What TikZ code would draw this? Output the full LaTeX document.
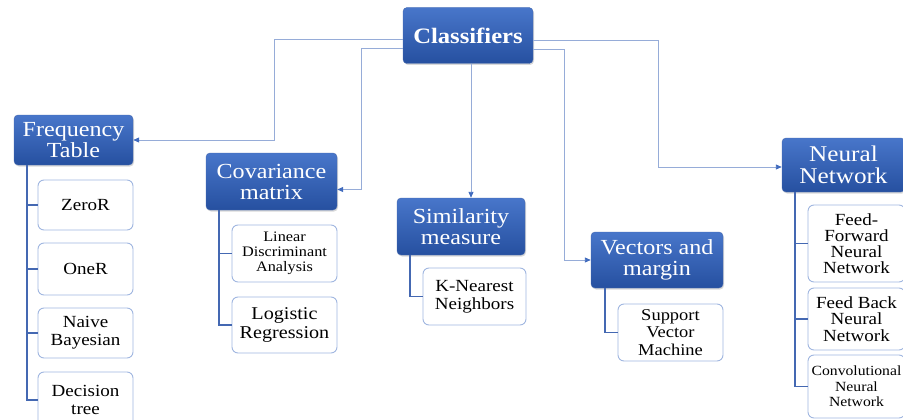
\documentclass[tikz,border=0pt]{standalone}
\usepackage{fontspec}
\setmainfont[FakeStretch=1.12]{Liberation Serif}
\usetikzlibrary{arrows.meta,shadows}
\definecolor{btop}{RGB}{72,118,202}
\definecolor{bbot}{RGB}{38,80,160}
\definecolor{cbord}{RGB}{160,182,224}
\definecolor{lconn}{RGB}{150,172,216}
\definecolor{ahead}{RGB}{66,108,190}
\definecolor{cline}{RGB}{68,104,178}
\tikzset{
  titlebox/.style={rectangle, rounded corners=4pt, top color=btop, bottom color=bbot,
    draw=bbot!85!white, line width=0.4pt, text=white, align=center, inner sep=0pt,
    font=\fontsize{21.5}{21}\selectfont,
    drop shadow={shadow xshift=1pt, shadow yshift=-1.5pt, opacity=0.3}},
  leafbox/.style={rectangle, rounded corners=6pt, fill=white, draw=cbord, line width=0.9pt,
    text=black, align=center, inner sep=0pt, font=\fontsize{17}{18}\selectfont},
  topconn/.style={draw=lconn, line width=0.9pt, -{Triangle[length=6pt,width=5pt,color=ahead]}},
  leafconn/.style={draw=cline, line width=1.6pt},
}
\begin{document}
\begin{tikzpicture}[x=1pt,y=-1pt]
\useasboundingbox (0,0) rectangle (903,420);
\clip (0,0) rectangle (903,420);

% title boxes
\node[titlebox, minimum width=130pt, minimum height=56pt, font=\bfseries\fontsize{22}{22}\selectfont] (cls) at (468,35.5) {Classifiers};
\node[titlebox, minimum width=119pt, minimum height=50pt] (freq) at (73.5,140) {Frequency\\Table};
\node[titlebox, minimum width=131pt, minimum height=57pt] (cov) at (271.5,181.5) {Covariance\\matrix};
\node[titlebox, minimum width=128pt, minimum height=57pt] (sim) at (461,226.5) {Similarity\\measure};
\node[titlebox, minimum width=132pt, minimum height=56pt] (vec) at (657,260) {Vectors and\\margin};
\node[titlebox, minimum width=123pt, minimum height=54pt, font=\fontsize{22.5}{22}\selectfont] (nn) at (843.5,165) {Neural\\Network};

% leaf boxes
\node[leafbox, minimum width=95pt, minimum height=50pt] (zeror) at (85.5,205) {ZeroR};
\node[leafbox, minimum width=95pt, minimum height=52pt] (oner) at (85.5,269) {OneR};
\node[leafbox, minimum width=95pt, minimum height=50pt] (naive) at (85.5,333) {Naive\\Bayesian};
\node[leafbox, minimum width=95pt, minimum height=56pt] (dec) at (85.5,400) {Decision\\tree};

\node[leafbox, minimum width=105pt, minimum height=57pt, font=\fontsize{14.5}{15}\selectfont] (lda) at (284.5,253.5) {Linear\\Discriminant\\Analysis};
\node[leafbox, minimum width=105pt, minimum height=56pt, font=\fontsize{18}{18.5}\selectfont] (logr) at (284.5,325) {Logistic\\Regression};

\node[leafbox, minimum width=103pt, minimum height=57pt] (knn) at (474.5,296.5) {K-Nearest\\Neighbors};

\node[leafbox, minimum width=105pt, minimum height=57pt, font=\fontsize{16.5}{17.5}\selectfont] (svm) at (670.5,332.5) {Support\\Vector\\Machine};

\node[leafbox, minimum width=97pt, minimum height=77pt, font=\fontsize{17}{16}\selectfont] (ff) at (856.5,243.5) {Feed-\\Forward\\Neural\\Network};
\node[leafbox, minimum width=97pt, minimum height=62pt, font=\fontsize{17}{16.5}\selectfont] (fb) at (856.5,319) {Feed Back\\Neural\\Network};
\node[leafbox, minimum width=97pt, minimum height=63pt, font=\fontsize{14}{15.5}\selectfont] (conv) at (856.5,386.5) {Convolutional\\Neural\\Network};

% top connectors
\draw[topconn] ([yshift=-4pt]cls.west) -| ([xshift=141pt]freq.east) -- (freq.east);
\draw[topconn] ([yshift=-13pt]cls.west) -| ([xshift=24pt,yshift=-8pt]cov.east) -- ([yshift=-8pt]cov.east);
\draw[topconn] ([xshift=3pt]cls.south) -- ([xshift=3pt]cls.south |- sim.north);
\draw[topconn] ([yshift=-5pt]cls.east) -| ([xshift=-123pt,yshift=-2pt]nn.west) -- ([yshift=-2pt]nn.west);
\draw[topconn] ([yshift=-14pt]cls.east) -| ([xshift=-26pt]vec.west) -- (vec.west);

% leaf connectors
\draw[leafconn] ([xshift=13pt]freq.south west) |- (dec.west);
\draw[leafconn] ([xshift=13pt]freq.south west |- zeror.west) -- (zeror.west);
\draw[leafconn] ([xshift=13pt]freq.south west |- oner.west) -- (oner.west);
\draw[leafconn] ([xshift=13pt]freq.south west |- naive.west) -- (naive.west);

\draw[leafconn] ([xshift=13pt]cov.south west) |- (logr.west);
\draw[leafconn] ([xshift=13pt]cov.south west |- lda.west) -- (lda.west);

\draw[leafconn] ([xshift=13pt]sim.south west) |- (knn.west);

\draw[leafconn] ([xshift=14pt]vec.south west) |- (svm.west);

\draw[leafconn] ([xshift=13pt]nn.south west) |- (conv.west);
\draw[leafconn] ([xshift=13pt]nn.south west |- ff.west) -- (ff.west);
\draw[leafconn] ([xshift=13pt]nn.south west |- fb.west) -- (fb.west);
\end{tikzpicture}
\end{document}
